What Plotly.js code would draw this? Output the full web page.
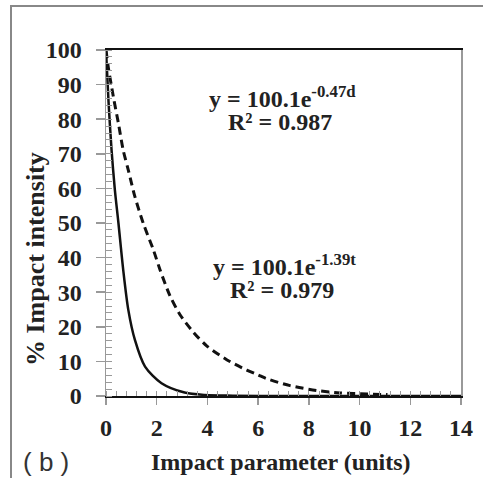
<!DOCTYPE html>
<html>
<head>
<meta charset="utf-8">
<script src="https://cdn.plot.ly/plotly-3.0.1.min.js"></script>
<style>html,body{margin:0;padding:0;background:#fff;}#chart{width:483px;height:478px;}</style>
</head>
<body>
<div id="chart"></div>
<script>
// Solid curve (t)
var solidX = [0, 0.1, 0.22, 0.35, 0.49, 0.68, 0.88, 1.14, 1.54, 2.19, 3.1, 3.9, 5, 7, 10, 14];
var solidY = [100, 85, 71, 59.5, 50, 36.4, 24.9, 16.2, 8.5, 3.7, 1.0, 0.3, 0.1, 0, 0, 0];
// Dashed curve (d)
var dashX = [0, 0.09, 0.29, 0.49, 0.68, 0.88, 1.14, 1.47, 1.87, 2.13, 2.52, 2.92, 3.44, 3.97, 4.76, 5.55, 6.0, 6.34, 7.26, 8.31, 9.23, 10.3, 11.1];
var dashY = [100, 95, 86.5, 78.8, 71, 65.3, 57.6, 49.9, 42.2, 36.5, 29, 23.5, 18.5, 14.5, 10.5, 7.5, 6.1, 5, 3, 1.6, 0.9, 0.6, 0.4];
var xTicks = [0, 2, 4, 6, 8, 10, 12, 14];
var yTicks = [0, 10, 20, 30, 40, 50, 60, 70, 80, 90, 100];

var annFont = {family: 'Liberation Serif, serif', size: 24, color: '#222', weight: 'bold'};

var traces = [
  {x: dashX, y: dashY, mode: 'lines', line: {color: '#111', width: 3, dash: '8px,5px', shape: 'spline', smoothing: 0.8}, hoverinfo: 'skip'},
  {x: solidX, y: solidY, mode: 'lines', line: {color: '#111', width: 2.5, shape: 'spline', smoothing: 0.8}, hoverinfo: 'skip'}
];

var layout = {
  width: 483, height: 478,
  margin: {l: 106, r: 22, t: 50, b: 82},
  paper_bgcolor: '#fff', plot_bgcolor: '#fff',
  showlegend: false,
  font: {family: 'Liberation Serif, serif', size: 24, color: '#222'},
  xaxis: {
    range: [0, 14], tickmode: 'array', tickvals: xTicks, ticktext: xTicks.map(function(v){return '<b>' + v + '</b>';}),
    showgrid: false, zeroline: false,
    showline: true, linecolor: '#111', linewidth: 2, mirror: true,
    ticks: 'outside', ticklen: 7, tickcolor: '#999', tickwidth: 1.5,
    minor: {ticks: 'inside', dtick: 0.4, ticklen: 5, tickcolor: '#999', tickwidth: 1, showgrid: false},
    tickfont: {family: 'Liberation Serif, serif', size: 24, color: '#222'}, ticklabelstandoff: 2, fixedrange: true
  },
  yaxis: {
    range: [0, 100], tickmode: 'array', tickvals: yTicks, ticktext: yTicks.map(function(v){return '<b>' + v + '</b>';}),
    showgrid: false, zeroline: false,
    showline: true, linecolor: '#999', linewidth: 1.5, mirror: true,
    ticks: 'outside', ticklen: 9, tickcolor: '#999', tickwidth: 1.5,
    minor: {ticks: 'inside', dtick: 2, ticklen: 6, tickcolor: '#999', tickwidth: 1, showgrid: false},
    tickfont: {family: 'Liberation Serif, serif', size: 24, color: '#222'}, ticklabelstandoff: 9, fixedrange: true
  },
  shapes: [
    {type: 'rect', xref: 'paper', yref: 'paper', x0: -0.2676, x1: 1.2, y0: -0.4, y1: 1.127,
     line: {color: '#888', width: 2}, fillcolor: 'rgba(0,0,0,0)', layer: 'below'}
  ],
  annotations: [
    {xref: 'paper', yref: 'paper', x: (282-106)/355, y: (396-97)/346, text: 'y = 100.1e<sup>-0.47d</sup>', showarrow: false, font: annFont, xanchor: 'center', yanchor: 'middle'},
    {xref: 'paper', yref: 'paper', x: (280-106)/355, y: (396-122)/346, text: 'R² = 0.987', showarrow: false, font: annFont, xanchor: 'center', yanchor: 'middle'},
    {xref: 'paper', yref: 'paper', x: (284-106)/355, y: (396-265)/346, text: 'y = 100.1e<sup>-1.39t</sup>', showarrow: false, font: annFont, xanchor: 'center', yanchor: 'middle'},
    {xref: 'paper', yref: 'paper', x: (282-106)/355, y: (396-290)/346, text: 'R² = 0.979', showarrow: false, font: annFont, xanchor: 'center', yanchor: 'middle'},
    {xref: 'paper', yref: 'paper', x: (281-106)/355, y: (396-462)/346, text: 'Impact parameter (units)', showarrow: false, font: annFont, xanchor: 'center', yanchor: 'middle'},
    {xref: 'paper', yref: 'paper', x: (35-106)/355, y: (396-259)/346, text: '% Impact intensity', showarrow: false, font: {family: 'Liberation Serif, serif', size: 26, color: '#222', weight: 'bold'}, textangle: -90, xanchor: 'center', yanchor: 'middle'},
    {xref: 'paper', yref: 'paper', x: (46-106)/355, y: (396-462)/346, text: '( b )', showarrow: false, font: {family: 'Liberation Sans, Arial, sans-serif', size: 26, color: '#333'}, xanchor: 'center', yanchor: 'middle'}
  ]
};

Plotly.newPlot('chart', traces, layout, {displayModeBar: false, staticPlot: true});
</script>
</body>
</html>
